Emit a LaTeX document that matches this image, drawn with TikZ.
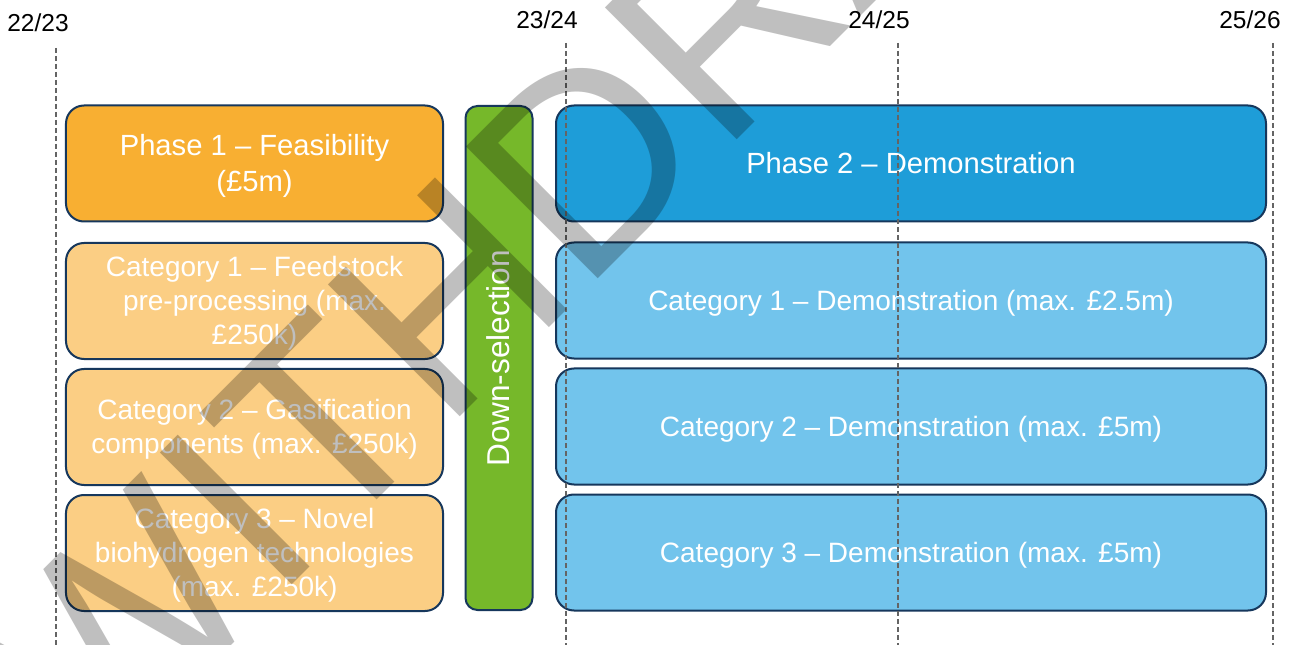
\documentclass[tikz,border=0pt]{standalone}
\usepackage{fontspec}
\setmainfont{Liberation Sans}
\definecolor{orgA}{RGB}{248,175,50}
\definecolor{orgB}{RGB}{251,206,132}
\definecolor{grn}{RGB}{118,184,42}
\definecolor{bluA}{RGB}{30,157,216}
\definecolor{bluB}{RGB}{114,196,236}
\definecolor{navy}{RGB}{22,55,92}
\definecolor{dashg}{RGB}{100,100,100}
\newcommand{\ppstrut}{\rule[-0.212em]{0pt}{1.117em}}
\begin{document}
\begin{tikzpicture}[x=1bp,y=-1bp,
  box/.style={draw=navy, line width=2bp, rounded corners=18bp, text=white, inner sep=0pt, align=center, minimum height=116bp, font=\fontsize{28bp}{34bp}\selectfont},
  phasefont/.style={font=\fontsize{29.2bp}{36.5bp}\selectfont},
  lbox/.style={box, minimum width=377bp},
  rbox/.style={box, minimum width=710bp},
  yearlbl/.style={font=\fontsize{24.5bp}{28bp}\selectfont, inner sep=0pt, text=black},
  tline/.style={draw=dashg, line width=1.1bp, dash pattern=on 5bp off 3bp}
]
\useasboundingbox (0,0) rectangle (1296,645);
\fill[white] (0,0) rectangle (1296,645);

% left column
\node[lbox, fill=orgA, phasefont] (p1) at (254.5,163.5) {\ppstrut Phase 1 – Feasibility\\(£5m)\ppstrut};
\node[lbox, fill=orgB] (c1o) at (254.5,301) {\ppstrut Category 1 – Feedstock\\pre-processing (max.\\£250k)\ppstrut};
\node[lbox, fill=orgB] (c2o) at (254.5,427) {\ppstrut Category 2 – Gasification\\components (max. £250k)\ppstrut};
\node[lbox, fill=orgB] (c3o) at (254.5,553) {\ppstrut Category 3 – Novel\\biohydrogen technologies\\(max. £250k)\ppstrut};

% down-selection bar
\node[draw=navy, line width=2bp, rounded corners=12bp, fill=grn, text=white, inner sep=0pt,
      minimum width=504bp, minimum height=67bp, rotate=90,
      font=\fontsize{31.6bp}{34bp}\selectfont] (ds) at (499,358) {\ppstrut Down-selection};

% right column
\node[rbox, fill=bluA, phasefont] (p2) at (911,163.5) {\ppstrut Phase 2 – Demonstration};
\node[rbox, fill=bluB] (c1b) at (911,300.5) {\ppstrut Category 1 – Demonstration (max. £2.5m)};
\node[rbox, fill=bluB] (c2b) at (911,426.5) {\ppstrut Category 2 – Demonstration (max. £5m)};
\node[rbox, fill=bluB] (c3b) at (911,552.5) {\ppstrut Category 3 – Demonstration (max. £5m)};

% year labels
\node[yearlbl] (y1) at (38,23) {22/23};
\node[yearlbl] (y2) at (547,19.5) {23/24};
\node[yearlbl] (y3) at (879,19.5) {24/25};
\node[yearlbl] (y4) at (1250,19.5) {25/26};

% timeline dashed lines
\coordinate (t1) at (56,48);   \coordinate (b1) at (56,645);
\coordinate (t2) at (566,43);  \coordinate (b2) at (566,645);
\coordinate (t3) at (898,43);  \coordinate (b3) at (898,645);
\coordinate (t4) at (1273,43); \coordinate (b4) at (1273,645);
\draw[tline] (t1) -- (b1);
\draw[tline] (t2) -- (b2);
\draw[tline] (t3) -- (b3);
\draw[tline] (t4) -- (b4);

% watermark
\node[rotate=45, anchor=base west, inner sep=0pt, text=black, text opacity=0.25,
      font=\fontsize{271bp}{271bp}\selectfont] (wm) at (93,784) {WITHDRAWN};
\end{tikzpicture}
\end{document}
